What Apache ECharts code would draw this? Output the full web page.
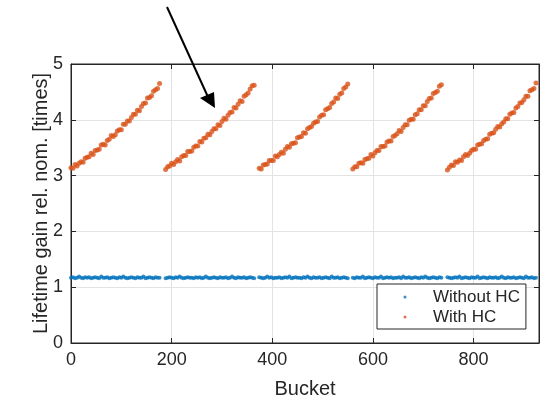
<!DOCTYPE html>
<html>
<head>
<meta charset="utf-8">
<script src="https://cdn.jsdelivr.net/npm/echarts@6/dist/echarts.min.js"></script>
<style>html,body{margin:0;padding:0;background:#fff;}#c{width:541px;height:399px;}</style>
</head>
<body>
<div id="c"></div>
<script>
// Bucket positions (sampled every 4 buckets in each of 5 fill segments)
const buckets = [
0,4,8,12,16,20,24,28,32,36,40,44,48,52,56,60,64,68,72,76,80,84,88,92,96,100,104,108,112,116,120,124,128,132,136,140,144,148,152,156,160,164,168,172,176,
188,192,196,200,204,208,212,216,220,224,228,232,236,240,244,248,252,256,260,264,268,272,276,280,284,288,292,296,300,304,308,312,316,320,324,328,332,336,340,344,348,352,356,360,364,
374,378,382,386,390,394,398,402,406,410,414,418,422,426,430,434,438,442,446,450,454,458,462,466,470,474,478,482,486,490,494,498,502,506,510,514,518,522,526,530,534,538,542,546,550,
560,564,568,572,576,580,584,588,592,596,600,604,608,612,616,620,624,628,632,636,640,644,648,652,656,660,664,668,672,676,680,684,688,692,696,700,704,708,712,716,720,724,728,732,736,
748,752,756,760,764,768,772,776,780,784,788,792,796,800,804,808,812,816,820,824,828,832,836,840,844,848,852,856,860,864,868,872,876,880,884,888,892,896,900,904,908,912,916,920,924
];
const withoutHC = [
1.17,1.18,1.16,1.17,1.19,1.17,1.16,1.18,1.17,1.18,1.16,1.17,1.18,1.17,1.16,1.19,1.17,1.17,1.18,1.16,1.17,1.18,1.17,1.16,1.18,1.17,1.19,1.17,1.16,1.17,1.18,1.17,1.16,1.18,1.17,1.17,1.19,1.16,1.17,1.18,1.17,1.16,1.18,1.17,1.17,
1.16,1.17,1.18,1.17,1.16,1.18,1.17,1.19,1.17,1.16,1.17,1.18,1.17,1.17,1.16,1.18,1.17,1.18,1.16,1.17,1.19,1.17,1.16,1.17,1.18,1.17,1.16,1.18,1.17,1.17,1.18,1.16,1.17,1.19,1.17,1.16,1.18,1.17,1.17,1.18,1.16,1.17,1.18,1.17,1.16,
1.18,1.17,1.16,1.17,1.19,1.17,1.18,1.16,1.17,1.17,1.18,1.16,1.17,1.18,1.17,1.19,1.16,1.17,1.18,1.17,1.17,1.16,1.18,1.17,1.19,1.17,1.16,1.18,1.17,1.17,1.18,1.16,1.17,1.18,1.17,1.16,1.19,1.17,1.17,1.18,1.16,1.17,1.18,1.17,1.16,
1.17,1.16,1.18,1.17,1.17,1.19,1.16,1.17,1.18,1.17,1.16,1.18,1.17,1.17,1.19,1.16,1.17,1.18,1.17,1.18,1.16,1.17,1.17,1.18,1.16,1.19,1.17,1.17,1.18,1.16,1.17,1.18,1.17,1.16,1.18,1.17,1.19,1.17,1.16,1.17,1.18,1.17,1.16,1.18,1.17,
1.18,1.17,1.16,1.17,1.18,1.17,1.19,1.16,1.17,1.18,1.17,1.16,1.18,1.17,1.17,1.19,1.16,1.17,1.18,1.17,1.16,1.18,1.17,1.17,1.18,1.16,1.17,1.19,1.17,1.16,1.18,1.17,1.17,1.18,1.16,1.17,1.18,1.17,1.16,1.19,1.17,1.17,1.18,1.16,1.17
];
const withHC = [
3.14,3.13,3.20,3.17,3.22,3.25,3.24,3.31,3.33,3.34,3.40,3.38,3.45,3.46,3.47,3.55,3.56,3.55,3.63,3.65,3.72,3.70,3.73,3.80,3.82,3.82,3.92,3.92,3.98,3.98,4.04,4.10,4.10,4.17,4.16,4.24,4.29,4.30,4.39,4.40,4.43,4.51,4.54,4.56,4.65,
3.11,3.16,3.17,3.22,3.20,3.25,3.29,3.26,3.34,3.36,3.36,3.43,3.43,3.44,3.51,3.53,3.53,3.61,3.60,3.67,3.68,3.74,3.73,3.79,3.84,3.84,3.91,3.90,3.97,4.03,4.01,4.08,4.13,4.14,4.22,4.21,4.28,4.34,4.33,4.42,4.45,4.48,4.55,4.61,4.62,
3.13,3.12,3.19,3.20,3.21,3.27,3.27,3.27,3.35,3.34,3.38,3.42,3.40,3.47,3.52,3.51,3.57,3.58,3.59,3.68,3.69,3.70,3.77,3.76,3.84,3.86,3.88,3.94,3.96,3.97,4.05,4.08,4.09,4.18,4.20,4.22,4.29,4.32,4.39,4.38,4.46,4.48,4.56,4.59,4.64,
3.12,3.16,3.16,3.22,3.23,3.22,3.29,3.30,3.31,3.38,3.35,3.41,3.45,3.45,3.52,3.52,3.53,3.60,3.62,3.62,3.70,3.72,3.75,3.81,3.79,3.86,3.91,3.91,3.99,4.01,4.01,4.09,4.11,4.18,4.18,4.25,4.25,4.33,4.38,4.39,4.47,4.49,4.51,4.60,4.63,
3.10,3.15,3.19,3.18,3.25,3.24,3.28,3.27,3.34,3.38,3.36,3.40,3.45,3.47,3.47,3.55,3.56,3.57,3.63,3.65,3.66,3.74,3.76,3.77,3.83,3.88,3.87,3.93,3.96,4.02,4.02,4.10,4.12,4.13,4.21,4.24,4.30,4.31,4.36,4.42,4.42,4.52,4.54,4.56,4.66
];
const seriesNames = ['Without HC', 'With HC'];
const xTitle = 'Bucket';
const yTitle = 'Lifetime gain rel. nom. [times]';

const pairs = (ys) => buckets.map((b, i) => [b, ys[i]]);
const txt = '#262626';
const font = '"Liberation Sans", Arial, sans-serif';
const tick = {show: true, inside: true, length: 5, lineStyle: {color: txt}};
// legend icon: small dot centred in a 46x3 box
const dotIcon = 'path://M0 0 M46 3 M21.5 1.5 A1.5 1.5 0 1 0 24.5 1.5 A1.5 1.5 0 1 0 21.5 1.5 Z';

const chart = echarts.init(document.getElementById('c'), null, {renderer: 'canvas'});
chart.setOption({
  animation: false,
  backgroundColor: '#fff',
  grid: {left: 71, right: 2, top: 64, bottom: 56, show: true, borderColor: txt, borderWidth: 1,
         backgroundColor: 'transparent', containLabel: false, outerBoundsMode: 'none'},
  xAxis: [{
    type: 'value', min: 0, max: 930, interval: 200,
    name: xTitle, nameLocation: 'middle', nameGap: 36, nameMoveOverlap: false,
    nameTextStyle: {fontFamily: font, fontSize: 20, color: txt},
    axisLine: {show: true, onZero: false, lineStyle: {color: txt}},
    axisTick: tick,
    axisLabel: {fontFamily: font, fontSize: 18, color: txt, margin: 8, showMaxLabel: false},
    splitLine: {show: true, lineStyle: {color: '#e3e3e3', width: 1}}
  }, {
    type: 'value', min: 0, max: 930, interval: 200, position: 'top',
    axisLine: {show: true, onZero: false, lineStyle: {color: txt}},
    axisTick: tick,
    axisLabel: {show: false}, splitLine: {show: false}
  }],
  yAxis: [{
    type: 'value', min: 0, max: 5, interval: 1,
    name: yTitle, nameLocation: 'middle', nameGap: 20, nameRotate: 90, nameMoveOverlap: false,
    nameTextStyle: {fontFamily: font, fontSize: 20, color: txt},
    axisLine: {show: true, onZero: false, lineStyle: {color: txt}},
    axisTick: tick,
    axisLabel: {fontFamily: font, fontSize: 18, color: txt, margin: 8},
    splitLine: {show: true, lineStyle: {color: '#e3e3e3', width: 1}}
  }, {
    type: 'value', min: 0, max: 5, interval: 1, position: 'right',
    axisLine: {show: true, onZero: false, lineStyle: {color: txt}},
    axisTick: tick,
    axisLabel: {show: false}, splitLine: {show: false}
  }],
  legend: {
    left: 377, top: 284, orient: 'vertical',
    backgroundColor: '#fff', borderColor: txt, borderWidth: 1, borderRadius: 0,
    padding: [3, 6, 2, 5], itemGap: 0, itemWidth: 46, itemHeight: 3,
    icon: dotIcon,
    textStyle: {fontFamily: font, fontSize: 17, color: txt, lineHeight: 20},
    data: seriesNames
  },
  series: [
    {name: seriesNames[0], type: 'scatter', data: pairs(withoutHC), symbol: 'circle', symbolSize: 4,
     itemStyle: {color: '#0072BD'}, z: 3},
    {name: seriesNames[1], type: 'scatter', data: pairs(withHC), symbol: 'circle', symbolSize: 5,
     itemStyle: {color: '#D95319'}, z: 3}
  ],
  graphic: [
    {type: 'line', shape: {x1: 167, y1: 7, x2: 208, y2: 97}, style: {stroke: '#000', lineWidth: 2}, z: 100},
    {type: 'polygon', shape: {points: [[215, 108], [200, 98], [214, 92]]}, style: {fill: '#000'}, z: 100}
  ]
});
</script>
</body>
</html>
